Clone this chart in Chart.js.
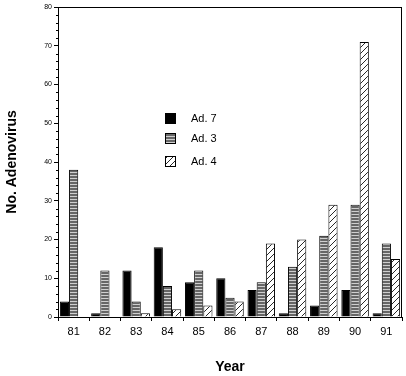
<!DOCTYPE html>
<html>
<head>
<meta charset="utf-8">
<script src="https://cdn.jsdelivr.net/npm/chart.js@4"></script>
<style>
  html, body { margin: 0; padding: 0; background: #fff; }
  #wrap { width: 406px; height: 376px; }
</style>
</head>
<body>
<div id="wrap"><canvas id="adenoChart" width="406" height="376"></canvas></div>
<script>
// data
var years = ['81', '82', '83', '84', '85', '86', '87', '88', '89', '90', '91'];
var ad7 = [4, 1, 12, 18, 9, 10, 7, 1, 3, 7, 1];
var ad3 = [38, 12, 4, 8, 12, 5, 9, 13, 21, 29, 19];
var ad4 = [0, 0, 1, 2, 3, 4, 19, 20, 29, 71, 15];
var yTicks = [0, 10, 20, 30, 40, 50, 60, 70, 80];

// fill patterns
function stripePattern() {
    var c = document.createElement('canvas');
    c.width = 4; c.height = 3;
    var g = c.getContext('2d');
    g.fillStyle = '#666';
    g.fillRect(0, 0, 4, 3);
    g.fillStyle = '#cfcfcf';
    g.fillRect(0, 1, 4, 1);
    return g.createPattern(c, 'repeat');
}
function hatchPattern() {
    var c = document.createElement('canvas');
    c.width = 6; c.height = 6;
    var g = c.getContext('2d');
    g.fillStyle = '#fff';
    g.fillRect(0, 0, 6, 6);
    g.strokeStyle = '#111';
    g.lineWidth = 0.9;
    g.beginPath();
    g.moveTo(0, 6); g.lineTo(6, 0);
    g.moveTo(-1, 1); g.lineTo(1, -1);
    g.moveTo(5, 7); g.lineTo(7, 5);
    g.stroke();
    return g.createPattern(c, 'repeat');
}

// box frame, minor y ticks and the inset legend
var extras = {
    id: 'extras',
    afterDraw: function (chart) {
        var ctx = chart.ctx, a = chart.chartArea, y = chart.scales.y;
        ctx.save();
        ctx.strokeStyle = '#000';
        ctx.lineWidth = 1;
        ctx.strokeRect(a.left + 0.5, a.top + 0.5, a.right - a.left - 1, a.bottom - a.top);
        ctx.beginPath();
        for (var v = 0; v <= 80; v += 2) {
            if (v % 10 === 0) continue;
            var py = Math.round(y.getPixelForValue(v)) + 0.5;
            ctx.moveTo(a.left - 2, py);
            ctx.lineTo(a.left + 0.5, py);
        }
        ctx.stroke();

        var ds = chart.data.datasets;
        var rows = [118, 138, 161];
        ctx.font = '11px "Liberation Sans", Arial, sans-serif';
        ctx.textBaseline = 'middle';
        for (var i = 0; i < ds.length; i++) {
            ctx.fillStyle = ds[i].backgroundColor;
            ctx.fillRect(165, rows[i] - 5, 11, 11);
            ctx.strokeRect(165.5, rows[i] - 4.5, 10, 10);
            ctx.fillStyle = '#000';
            ctx.fillText(ds[i].label, 191, rows[i] + 1);
        }
        ctx.restore();
    }
};

var ctx = document.getElementById('adenoChart').getContext('2d');
var adenoChart = new Chart(ctx, {
    type: 'bar',
    data: {
        labels: years,
        datasets: [{
            label: 'Ad. 7',
            data: ad7,
            backgroundColor: '#000',
            borderColor: '#000',
            borderWidth: 1
        }, {
            label: 'Ad. 3',
            data: ad3,
            backgroundColor: stripePattern(),
            borderColor: '#000',
            borderWidth: 1
        }, {
            label: 'Ad. 4',
            data: ad4,
            backgroundColor: hatchPattern(),
            borderColor: '#000',
            borderWidth: 1
        }]
    },
    options: {
        responsive: false,
        animation: false,
        layout: { padding: { top: 7, right: 4, left: 0, bottom: 0 } },
        categoryPercentage: 0.88,
        barPercentage: 1.0,
        plugins: {
            legend: { display: false },
            tooltip: { enabled: false }
        },
        scales: {
            x: {
                grid: { offset: true, drawOnChartArea: false, tickLength: 4, color: '#000' },
                border: { color: '#000' },
                ticks: {
                    color: '#000',
                    padding: 4,
                    font: { family: '"Liberation Sans", Arial, sans-serif', size: 11 }
                },
                title: {
                    display: true,
                    text: 'Year',
                    color: '#000',
                    padding: { top: 18, bottom: 0 },
                    font: { family: '"Liberation Sans", Arial, sans-serif', size: 14, weight: 'bold' }
                },
                afterFit: function (s) { s.height = 59; }
            },
            y: {
                min: 0,
                max: 80,
                afterBuildTicks: function (s) {
                    s.ticks = yTicks.map(function (v) { return { value: v }; });
                },
                grid: { drawOnChartArea: false, tickLength: 4, color: '#000' },
                border: { color: '#000' },
                ticks: {
                    color: '#000',
                    padding: 2,
                    font: { family: '"Liberation Sans", Arial, sans-serif', size: 7 }
                },
                title: {
                    display: true,
                    text: 'No. Adenovirus',
                    color: '#000',
                    padding: { top: 4, bottom: 10 },
                    font: { family: '"Liberation Sans", Arial, sans-serif', size: 14, weight: 'bold' }
                },
                afterFit: function (s) { s.width = 58; }
            }
        }
    },
    plugins: [extras]
});
</script>
</body>
</html>
